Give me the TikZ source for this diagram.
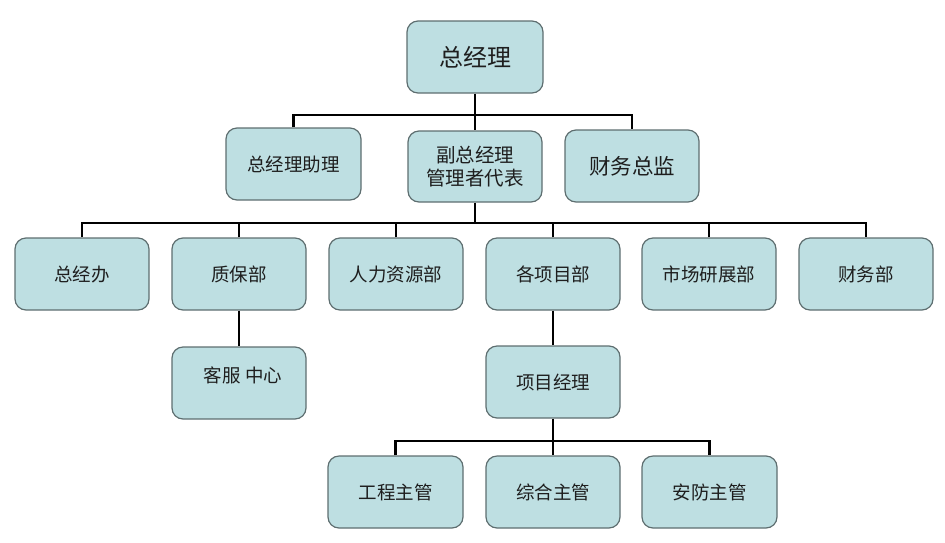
\documentclass[tikz,border=0pt]{standalone}
\usepackage{fontspec}
\newfontfamily\cjk{Noto Sans CJK SC}
\definecolor{boxfill}{HTML}{BEDFE2}
\definecolor{boxline}{HTML}{5E6E70}
\definecolor{txt}{HTML}{1E1E1E}
\begin{document}
\begin{tikzpicture}[x=1pt,y=-1pt,
  box/.style={draw=boxline,line width=1.2pt,fill=boxfill,rounded corners=11pt,
    minimum width=134pt,minimum height=72pt,inner sep=0pt,align=center,
    font=\cjk\fontsize{18.5}{23}\selectfont,text=txt},
  link/.style={draw=black,line width=2.6pt}]
\useasboundingbox (0,0) rectangle (945,542);
% level 1
\node[box,minimum width=136pt,font=\cjk\fontsize{24}{28}\selectfont] (gm) at (475,57) {总经理};
% level 2
\node[box,minimum width=135pt] (asst) at (293.5,164) {总经理助理};
\node[box,minimum height=71pt,font=\cjk\fontsize{19.5}{23}\selectfont] (vp) at (475,166.5) {副总经理\\管理者代表};
\node[box,font=\cjk\fontsize{21.5}{26}\selectfont] (cfo) at (632,166) {财务总监};
% level 3
\node[box] (office) at (82,274) {总经办};
\node[box] (qa) at (239,274) {质保部};
\node[box] (hr) at (396,274) {人力资源部};
\node[box] (proj) at (553,274) {各项目部};
\node[box] (mkt) at (709,274) {市场研展部};
\node[box] (fin) at (866,274) {财务部};
% level 4
\node[box] (cs) at (239,383) {};
\node[font=\cjk\fontsize{18.5}{23}\selectfont,text=txt,inner sep=0pt] (cstext) at (243,375) {客服 中心};
\node[box] (pm) at (553,382) {项目经理};
% level 5
\node[box,minimum width=135pt] (eng) at (395.5,492) {工程主管};
\node[box] (gen) at (553,492) {综合主管};
\node[box,minimum width=135pt] (sec) at (709.5,492) {安防主管};
% connectors
\coordinate (j1) at (475,115);
\coordinate (j2) at (475,223);
\coordinate (j3) at (553,441);
\path[link] (gm.south) -- (j1);
\path[link] (asst.north) |- (j1) -| (cfo.north);
\path[link] (j1) -- (vp.north);
\path[link] (vp.south) -- (j2);
\path[link] (office.north) |- (j2) -| (fin.north);
\path[link] (qa.north) -- (qa.north |- j2);
\path[link] (hr.north) -- (hr.north |- j2);
\path[link] (proj.north) -- (proj.north |- j2);
\path[link] (mkt.north) -- (mkt.north |- j2);
\path[link] (qa.south) -- (cs.north);
\path[link] (proj.south) -- (pm.north);
\path[link] (pm.south) -- (j3);
\path[link] (eng.north) |- (j3) -| (sec.north);
\path[link] (j3) -- (gen.north);
\end{tikzpicture}
\end{document}
